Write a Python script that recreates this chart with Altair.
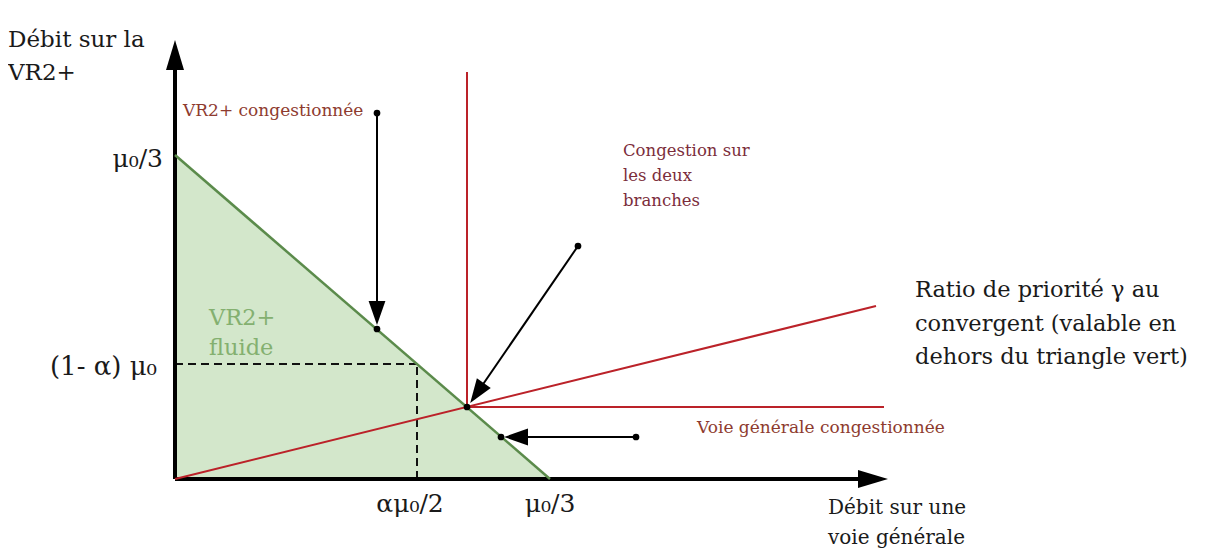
import altair as alt
import pandas as pd

# ---------------- data (diagram units: origin at the axes crossing) ----------------
# green "VR2+ fluide" triangle
tri_x = [0, 375]
tri_top = [324, 0]
tri_base = [0, 0]

# solid segments: x, y, x2, y2, colour, width
seg_x = [0, 0, 0, 0, 292, 292, 202, 403, 461]
seg_y = [0, 0, 324, 0, 72, 72, 366, 233, 42]
seg_x2 = [0, 683, 375, 701, 292, 709, 202, 302, 341]
seg_y2 = [409, 0, 0, 173, 407, 72, 166, 86, 42]
seg_color = ["#000000", "#000000", "#5b8b4b", "#bb2229", "#bb2229", "#bb2229",
             "#000000", "#000000", "#000000"]
seg_width = [4, 4, 2.5, 2, 2, 2, 2, 2, 2]

# dashed guide lines to (alpha*mu0/2 , (1-alpha)*mu0)
dash_x = [0, 242]
dash_y = [115, 0]
dash_x2 = [242, 242]
dash_y2 = [115, 115]

# arrow heads (small) : centre x, y, angle
head_x = [202, 302, 341]
head_y = [166, 86, 42]
head_angle = [180, 214.6, 270]

# axis arrow heads
axhead_x = [0, 698]
axhead_y = [424, 0]
axhead_angle = [0, 90]

# dots
dot_x = [202, 202, 403, 292, 461, 326]
dot_y = [366, 150, 233, 72, 42, 42]

# left-aligned texts
lt_text = ["Débit sur la", "VR2+", "Débit sur une", "voie générale",
           "VR2+ congestionnée",
           "Congestion sur", "les deux", "branches",
           "Ratio de priorité γ au", "convergent (valable en", "dehors du triangle vert)",
           "Voie générale congestionnée",
           "VR2+", "fluide"]
lt_x = [-167, -167, 653, 653, 8, 448, 448, 448, 740, 740, 740, 522, 34, 34]
lt_y = [432, 399, -35, -65, 363, 323, 298, 273, 182, 148, 115, 46, 154, 124]
lt_size = [23, 23, 20, 20, 17, 16.5, 16.5, 16.5, 22.5, 22.5, 22.5, 17, 22.5, 22.5]
lt_color = ["#1a1a1a", "#1a1a1a", "#1a1a1a", "#1a1a1a", "#8e3b2f",
            "#7b2d3b", "#7b2d3b", "#7b2d3b",
            "#1a1a1a", "#1a1a1a", "#1a1a1a", "#8e3b2f", "#84b070", "#84b070"]

# tick-like labels
ry_text = ["μ₀/3", "(1- α) μ₀"]
ry_x = [-12, -18]
ry_y = [312, 104]
ry_size = [25, 26]
cx_text = ["αμ₀/2", "μ₀/3"]
cx_x = [235, 375]
cx_y = [-33, -33]

# ---------------- chart ----------------
xs = alt.Scale(domain=[-167, 1030], nice=False, zero=False)
ys = alt.Scale(domain=[-71, 471], nice=False, zero=False)


def X(f="x"):
    return alt.X(f"{f}:Q", scale=xs, axis=None)


def Y(f="y"):
    return alt.Y(f"{f}:Q", scale=ys, axis=None)


tri = alt.Chart(pd.DataFrame({"x": tri_x, "y": tri_top, "y0": tri_base})).mark_area(
    color="#d3e7cb", opacity=1, interpolate="linear"
).encode(x=X(), y=Y(), y2=alt.Y2("y0:Q"))

seg_df = pd.DataFrame({"x": seg_x, "y": seg_y, "x2": seg_x2, "y2": seg_y2,
                       "c": seg_color, "w": seg_width})
dash = alt.Chart(pd.DataFrame({"x": dash_x, "y": dash_y, "x2": dash_x2, "y2": dash_y2})).mark_rule(
    color="#111111", strokeWidth=2, strokeDash=[8, 5]
).encode(x=X(), y=Y(), x2=alt.X2("x2:Q"), y2=alt.Y2("y2:Q"))

segs = alt.Chart(seg_df).mark_rule(strokeCap="butt").encode(
    x=X(), y=Y(), x2=alt.X2("x2:Q"), y2=alt.Y2("y2:Q"),
    color=alt.Color("c:N", scale=None),
    strokeWidth=alt.StrokeWidth("w:Q", scale=None),
)

heads = alt.Chart(pd.DataFrame({"x": head_x, "y": head_y, "a": head_angle})).mark_point(
    shape="M 0 -1 L 0.7 1 L -0.7 1 Z", filled=True, color="#000000", opacity=1, size=576
).encode(x=X(), y=Y(), angle=alt.Angle("a:Q", scale=None))

axheads = alt.Chart(pd.DataFrame({"x": axhead_x, "y": axhead_y, "a": axhead_angle})).mark_point(
    shape="M 0 -1 L 0.6 1 L -0.6 1 Z", filled=True, color="#000000", opacity=1, size=900
).encode(x=X(), y=Y(), angle=alt.Angle("a:Q", scale=None))

dots = alt.Chart(pd.DataFrame({"x": dot_x, "y": dot_y})).mark_circle(
    color="#000000", opacity=1, size=45
).encode(x=X(), y=Y())

lt = alt.Chart(pd.DataFrame({"x": lt_x, "y": lt_y, "t": lt_text, "s": lt_size, "c": lt_color})).mark_text(
    align="left", baseline="alphabetic", font="DejaVu Serif"
).encode(x=X(), y=Y(), text="t:N", size=alt.Size("s:Q", scale=None),
         color=alt.Color("c:N", scale=None))

ry = alt.Chart(pd.DataFrame({"x": ry_x, "y": ry_y, "t": ry_text, "s": ry_size})).mark_text(
    align="right", baseline="alphabetic", font="DejaVu Serif", color="#1a1a1a"
).encode(x=X(), y=Y(), text="t:N", size=alt.Size("s:Q", scale=None))

cx = alt.Chart(pd.DataFrame({"x": cx_x, "y": cx_y, "t": cx_text})).mark_text(
    align="center", baseline="alphabetic", font="DejaVu Serif", fontSize=25, color="#1a1a1a"
).encode(x=X(), y=Y(), text="t:N")

chart = alt.layer(tri, dash, segs, heads, axheads, dots, lt, ry, cx).properties(
    width=1197, height=542, autosize=alt.AutoSizeParams(type="none"), padding=0,
    background="#ffffff"
).configure_view(stroke=None)

chart.save("out.html", embed_options={"renderer": "svg", "actions": False})
